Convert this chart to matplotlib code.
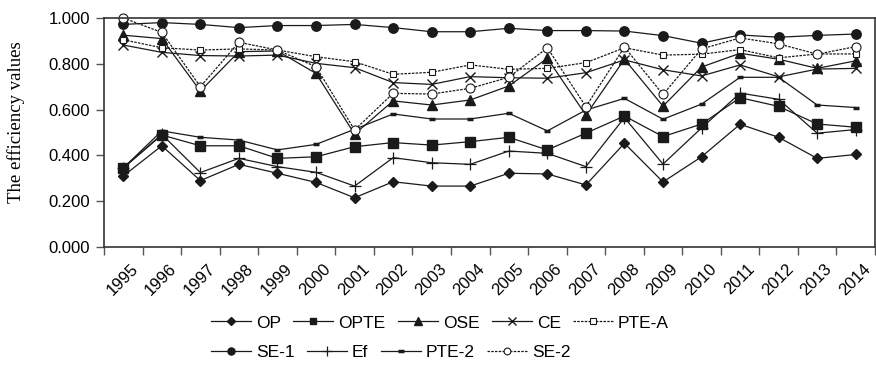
"""
Efficiency values chart 1995-2014
"""
import matplotlib
matplotlib.use('Agg')
import matplotlib.pyplot as plt
from matplotlib.lines import Line2D
import matplotlib.transforms as mtransforms
import numpy as np

years = [str(y) for y in range(1995, 2015)]

op = [0.310, 0.442, 0.290, 0.361, 0.322, 0.282, 0.215, 0.285, 0.266, 0.266,
      0.322, 0.319, 0.271, 0.453, 0.284, 0.394, 0.536, 0.479, 0.387, 0.404]
opte = [0.345, 0.489, 0.442, 0.442, 0.387, 0.394, 0.438, 0.456, 0.445, 0.460,
        0.479, 0.424, 0.497, 0.572, 0.482, 0.537, 0.652, 0.614, 0.537, 0.523]
ose = [0.925, 0.910, 0.681, 0.853, 0.856, 0.758, 0.493, 0.638, 0.620, 0.642,
       0.703, 0.824, 0.576, 0.820, 0.615, 0.786, 0.846, 0.820, 0.780, 0.813]
ce = [0.882, 0.850, 0.836, 0.834, 0.838, 0.802, 0.783, 0.718, 0.710, 0.744,
      0.739, 0.737, 0.761, 0.817, 0.774, 0.747, 0.795, 0.743, 0.777, 0.780]
pte_a = [0.905, 0.870, 0.860, 0.865, 0.860, 0.831, 0.809, 0.754, 0.763, 0.795,
         0.776, 0.780, 0.805, 0.870, 0.838, 0.842, 0.862, 0.826, 0.843, 0.843]
se1 = [0.972, 0.980, 0.972, 0.958, 0.967, 0.967, 0.972, 0.958, 0.940, 0.940,
       0.955, 0.945, 0.945, 0.943, 0.923, 0.890, 0.926, 0.916, 0.924, 0.930]
ef = [0.345, 0.492, 0.325, 0.387, 0.351, 0.326, 0.266, 0.390, 0.368, 0.361,
      0.419, 0.409, 0.351, 0.565, 0.362, 0.520, 0.672, 0.645, 0.497, 0.513]
pte2 = [0.345, 0.507, 0.479, 0.467, 0.424, 0.448, 0.514, 0.581, 0.559, 0.559,
        0.584, 0.507, 0.598, 0.649, 0.558, 0.624, 0.741, 0.741, 0.620, 0.609]
se2 = [1.000, 0.937, 0.700, 0.894, 0.860, 0.787, 0.511, 0.671, 0.668, 0.693,
       0.741, 0.870, 0.613, 0.873, 0.666, 0.865, 0.913, 0.887, 0.842, 0.875]

plt.rcParams['font.family'] = ['Liberation Sans', 'DejaVu Sans']

fig = plt.figure(figsize=(8.76, 3.68), dpi=100)
ax = fig.add_axes([0.1187, 0.3288, 0.8802, 0.6223])

x = np.arange(len(years)) + 0.5
lc = '#1a1a1a'

series = [
    ('OP', op, dict(marker='D', markersize=5, ls='-')),
    ('OPTE', opte, dict(marker='s', markersize=6.5, ls='-')),
    ('OSE', ose, dict(marker='^', markersize=7, ls='-')),
    ('CE', ce, dict(marker='x', markersize=7, ls='-', markeredgewidth=1)),
    ('PTE-A', pte_a, dict(marker='s', markersize=5, ls=(0, (2, 1)),
                          markerfacecolor='white', markeredgewidth=0.8)),
    ('SE-1', se1, dict(marker='o', markersize=6.8, ls='-')),
    ('Ef', ef, dict(marker='+', markersize=9, ls='-', markeredgewidth=0.9)),
    ('PTE-2', pte2, dict(marker='_', markersize=5, ls='-', markeredgewidth=2.5)),
    ('SE-2', se2, dict(marker='o', markersize=6.5, ls=(0, (2, 1)),
                       markerfacecolor='white', markeredgewidth=0.8)),
]

handles = []
for name, vals, st in series:
    kw = dict(color=lc, linewidth=0.9, markeredgecolor=lc)
    kw.update(st)
    ax.plot(x, vals, label=name, clip_on=False, **kw)
    hkw = dict(kw)
    hkw['markersize'] = kw['markersize'] * 0.75
    handles.append(Line2D([], [], **hkw))

ax.set_xlim(0, len(years))
ax.set_ylim(0, 1.0)
yt = np.arange(0, 1.01, 0.2)
ax.set_yticks(yt)
ax.set_yticklabels([f'{v:.3f}' for v in yt], fontsize=12)
ax.set_xticks(x)
ax.set_xticklabels(years, rotation=45, ha='right', rotation_mode='anchor',
                   fontsize=12)
ax.set_xticks(np.arange(0, len(years) + 1), minor=True)
ax.tick_params(axis='x', which='major', length=0, pad=10)
ax.tick_params(axis='x', which='minor', length=6, color='#555555', width=1)
ax.tick_params(axis='y', length=6, color='#555555', width=1, pad=4)

# shift year labels a little to the right
shift = mtransforms.ScaledTranslation(0.07, 0, fig.dpi_scale_trans)
for lab in ax.get_xticklabels():
    lab.set_transform(lab.get_transform() + shift)

for sp in ax.spines.values():
    sp.set_linewidth(1.2)
    sp.set_color('#333333')

ax.set_ylabel('The efficiency values', fontsize=13.5,
              family=['Liberation Serif', 'DejaVu Serif'])
ax.yaxis.set_label_coords(-0.102, 0.544)

leg_kw = dict(frameon=False, fontsize=12.5, handlelength=2.3,
              handletextpad=0.3, columnspacing=0.7, borderpad=0,
              borderaxespad=0, loc='center left')
fig.legend(handles=handles[:5], labels=[s[0] for s in series[:5]], ncol=5,
           bbox_to_anchor=(211 / 876, 1 - 323 / 368), **leg_kw)
fig.legend(handles=handles[5:], labels=[s[0] for s in series[5:]], ncol=4,
           bbox_to_anchor=(211 / 876, 1 - 352 / 368), **leg_kw)

plt.savefig('out.png', dpi=100, facecolor='white')
plt.close()
